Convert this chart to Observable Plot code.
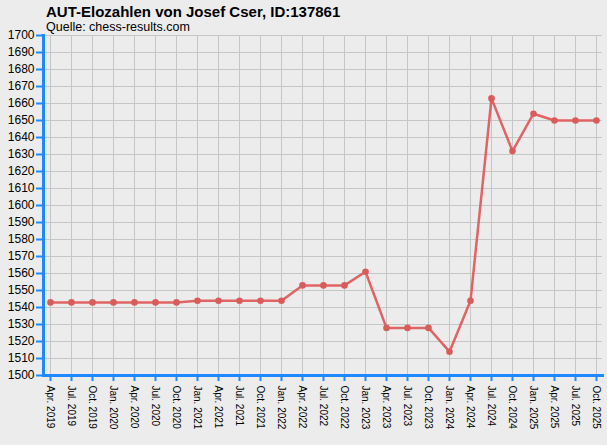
<!DOCTYPE html>
<html>
<head>
<meta charset="utf-8">
<script src="https://cdn.jsdelivr.net/npm/d3@7"></script>
<script src="https://cdn.jsdelivr.net/npm/@observablehq/plot@0.6"></script>
<style>
  html, body { margin: 0; padding: 0; background: #ececec; }
  #wrap { position: relative; width: 607px; height: 445px; overflow: hidden; }
  .t { position: absolute; left: 46px; font-family: "Liberation Sans", Arial, sans-serif; line-height: 1; white-space: nowrap; color: #000; }
  #title { top: 4px; font-size: 15px; font-weight: bold; }
  #sub { top: 21px; font-size: 12.5px; }
  #chart { position: absolute; left: 0; top: 0; }
</style>
</head>
<body>
<div id="wrap">
  <div id="chart"></div>
  <div class="t" id="title">AUT-Elozahlen von Josef Cser, ID:137861</div>
  <div class="t" id="sub">Quelle: chess-results.com</div>
</div>
<script>
const periods = ["Apr. 2019","Jul. 2019","Oct. 2019","Jan. 2020","Apr. 2020","Jul. 2020","Oct. 2020",
  "Jan. 2021","Apr. 2021","Jul. 2021","Oct. 2021","Jan. 2022","Apr. 2022","Jul. 2022","Oct. 2022",
  "Jan. 2023","Apr. 2023","Jul. 2023","Oct. 2023","Jan. 2024","Apr. 2024","Jul. 2024","Oct. 2024",
  "Jan. 2025","Apr. 2025","Jul. 2025","Oct. 2025"];
const elo = [1543,1543,1543,1543,1543,1543,1543,
  1544,1544,1544,1544,1544,1553,1553,1553,
  1561,1528,1528,1528,1514,1544,1663,1632,
  1654,1650,1650,1650];
const yTicks = d3.range(1500, 1701, 10);

const data = periods.map((p, i) => ({period: p, elo: elo[i]}));
const blue = "#1e88ff";

const chart = Plot.plot({
  width: 607,
  height: 445,
  marginTop: 35,
  marginBottom: 70,
  marginLeft: 43,
  marginRight: 5,
  style: {background: "transparent", fontFamily: "'Liberation Sans', Arial, sans-serif", color: "#000"},
  x: {type: "point", domain: periods, range: [49.5, 595.5], padding: 0, align: 0.5},
  y: {domain: [1500, 1700]},
  marks: [
    Plot.gridY(yTicks, {stroke: "#c6c6c6", strokeOpacity: 1, strokeWidth: 1}),
    Plot.gridX(periods, {stroke: "#c6c6c6", strokeOpacity: 1, strokeWidth: 1}),
    Plot.frame({anchor: "left", stroke: blue, strokeWidth: 3}),
    Plot.frame({anchor: "bottom", stroke: blue, strokeWidth: 3}),
    Plot.axisY(yTicks, {tickSize: 7, tickPadding: 2, tickFormat: "d", stroke: blue, strokeWidth: 2, fill: "#000", fontSize: 12, label: null}),
    Plot.axisX(periods, {tickSize: 6, tickPadding: 4, tickRotate: 90, stroke: blue, strokeWidth: 2, fill: "#000", fontSize: 10, label: null}),
    Plot.line(data, {x: "period", y: "elo", stroke: "#e06464", strokeWidth: 2.5}),
    Plot.dot(data, {x: "period", y: "elo", r: 3.3, fill: "#d95c5c", stroke: "none"})
  ]
});
document.getElementById("chart").appendChild(chart);
</script>
</body>
</html>
